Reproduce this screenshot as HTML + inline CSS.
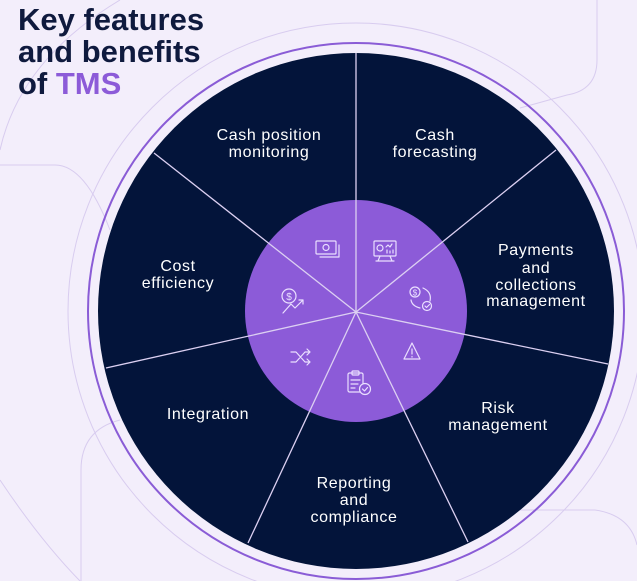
<!DOCTYPE html>
<html><head><meta charset="utf-8"><style>
body{margin:0;width:637px;height:581px;overflow:hidden;background:#f3eefb;font-family:"Liberation Sans",sans-serif}
svg{position:absolute;left:0;top:0}
</style></head><body>
<svg width="637" height="581" viewBox="0 0 637 581">
<rect width="637" height="581" fill="#f3eefb"/>
<g fill="none" stroke="#d8ccef" stroke-width="1">
<path d="M597 0 V60 Q597 90 567 95 L520 108"/>
<path d="M0 165 H55 Q85 165 110 230"/>
<path d="M120 0 Q20 60 0 150"/>
<path d="M120 420 Q81 430 81 470 V581"/>
<path d="M520 510 H595 Q630 515 637 545"/>
<path d="M0 480 Q40 540 80 581"/>
<circle cx="356" cy="311" r="288"/>
</g>
<circle cx="356" cy="311" r="268" fill="none" stroke="#8a5cd6" stroke-width="2"/>
<circle cx="356" cy="311" r="258" fill="#03143a"/>
<circle cx="356" cy="311" r="111" fill="#8c5bd8"/>
<g stroke="#dcd0f2" stroke-width="1.3">
<line x1="356" y1="312" x2="356" y2="53"/>
<line x1="356" y1="312" x2="154" y2="153"/>
<line x1="356" y1="312" x2="556" y2="150"/>
<line x1="356" y1="312" x2="106" y2="368"/>
<line x1="356" y1="312" x2="608" y2="364"/>
<line x1="356" y1="312" x2="248" y2="543"/>
<line x1="356" y1="312" x2="468" y2="542"/>
</g>
<g fill="none" stroke="#eadfff" stroke-width="1.2" stroke-linecap="round" stroke-linejoin="round">
<rect x="316" y="241" width="20" height="13" rx="1"/><circle cx="326" cy="247.5" r="3"/><path d="M339 245 V257 H320"/>
<rect x="374" y="241" width="22" height="15" rx="1"/><path d="M380 256 L378 261 M390 256 L392 261 M376 261 H394"/><circle cx="380" cy="248" r="3"/><path d="M386 247 l2 -2 2 2 2 -3 M387 253 v-3 M390 253 v-2 M393 253 v-3"/>
<circle cx="289" cy="296" r="7"/><path d="M283 313 L291 304 L295 308 L303 300 M299 300 H303 V304"/><text x="289" y="300" font-size="10" fill="#eadfff" stroke="none" text-anchor="middle">$</text>
<circle cx="415" cy="292" r="5"/><text x="415" y="295.5" font-size="8" fill="#eadfff" stroke="none" text-anchor="middle">$</text><path d="M423 288 Q432 292 430 301 M411 300 Q412 306 420 308"/><circle cx="427" cy="306" r="4.5"/><path d="M425 306 l1.5 1.5 3 -3"/>
<path d="M291 352 H296 L305 362 H310 M291 362 H296 L305 352 H310 M307 349 L310 352 L307 355 M307 359 L310 362 L307 365"/>
<path d="M412 343 L420 359 H404 Z M412 349 V354 M412 356.5 V357"/>
<rect x="348" y="373" width="15" height="19" rx="1.5"/><rect x="352" y="371" width="7" height="4" rx="1"/><path d="M351 380 H360 M351 384 H358 M351 388 H355"/><circle cx="365" cy="389" r="5.5" fill="#8c5bd8"/><path d="M362.5 389 l2 2 3 -3.5"/>
</g>
<text font-size="31" font-weight="bold" fill="#0f1a3e">
<tspan x="18" y="30">Key features</tspan><tspan x="18" y="62">and benefits</tspan><tspan x="18" y="94">of <tspan fill="#8c5bd8">TMS</tspan></tspan>
</text>
<g fill="#ffffff" font-size="16" letter-spacing="0.6" text-anchor="middle">
<text x="269" y="140">Cash position</text><text x="269" y="157">monitoring</text>
<text x="435" y="140">Cash</text><text x="435" y="157">forecasting</text>
<text x="536" y="255">Payments</text><text x="536" y="273">and</text><text x="536" y="290">collections</text><text x="536" y="306">management</text>
<text x="178" y="271">Cost</text><text x="178" y="288">efficiency</text>
<text x="208" y="419">Integration</text>
<text x="354" y="488">Reporting</text><text x="354" y="505">and</text><text x="354" y="522">compliance</text>
<text x="498" y="413">Risk</text><text x="498" y="430">management</text>
</g>
</svg>
</body></html>
